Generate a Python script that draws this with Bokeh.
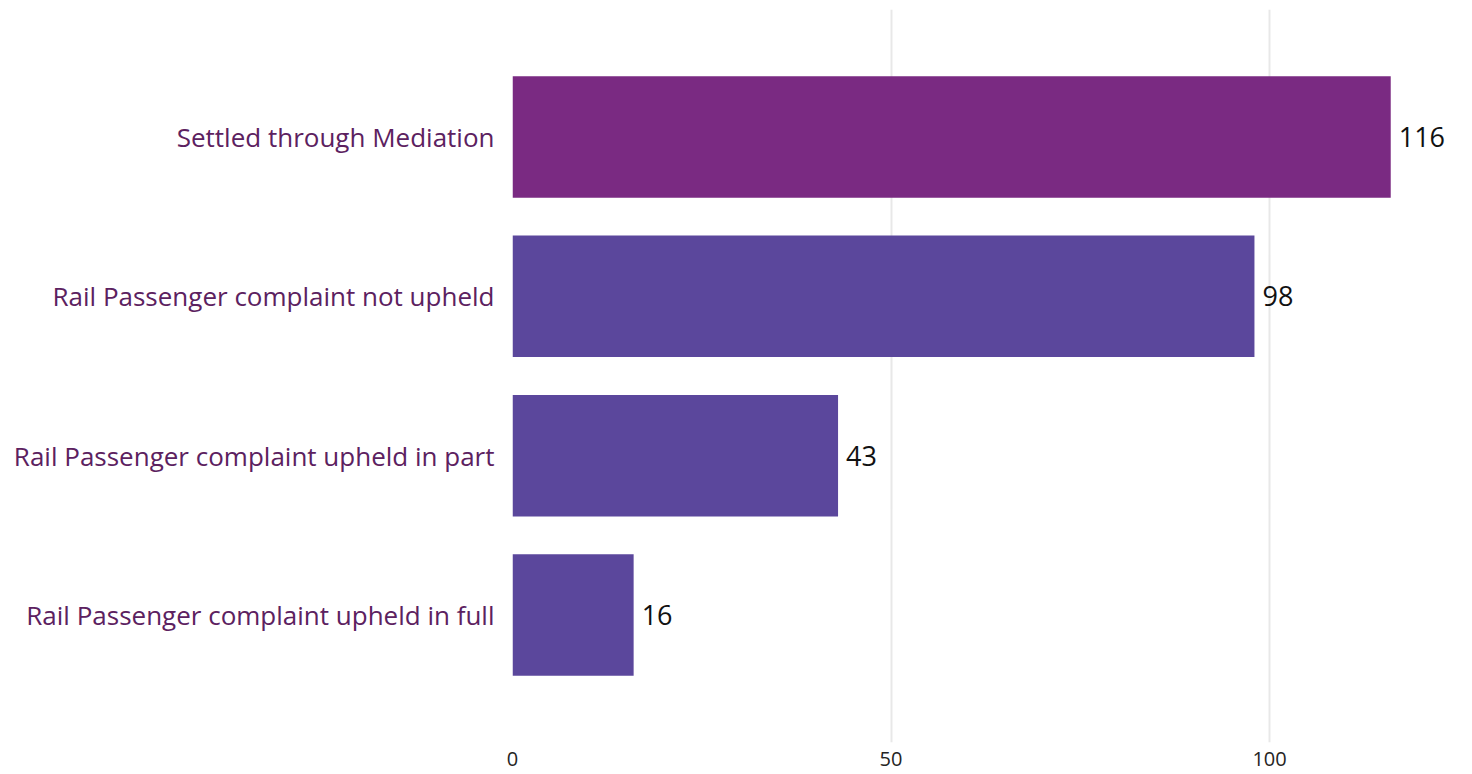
from bokeh.plotting import figure
from bokeh.models import ColumnDataSource, FactorRange, Range1d, FixedTicker
from bokeh.core.properties import value
from bokeh.embed import file_html
from bokeh.resources import INLINE

categories = [
    "Settled through Mediation",
    "Rail Passenger complaint not upheld",
    "Rail Passenger complaint upheld in part",
    "Rail Passenger complaint upheld in full",
]
values = [116, 98, 43, 16]
colors = ["#7a2a82", "#5b479c", "#5b479c", "#5b479c"]
x_ticks = [0, 50, 100]

src = ColumnDataSource(dict(cat=categories, val=values, color=colors,
                            lab=[str(v) for v in values]))

y_range = FactorRange(factors=list(reversed(categories)), range_padding=0.3,
                      range_padding_units="absolute")

p = figure(width=1472, height=772, y_range=y_range, x_range=Range1d(0, 126.8),
           output_backend="svg", toolbar_location=None,
           min_border_left=512, min_border_right=0, min_border_top=9,
           min_border_bottom=30)
p.outline_line_color = None
p.background_fill_color = "white"

p.hbar(y="cat", right="val", left=0, height=0.762, fill_color="color",
       line_color=None, source=src)

p.text(x="val", y="cat", text="lab", source=src, x_offset=8,
       text_baseline="middle", text_align="left",
       text_font=value("Open Sans"), text_font_size="27px",
       text_color="#111111")

p.xaxis.ticker = FixedTicker(ticks=x_ticks)
p.xaxis.axis_line_color = None
p.xaxis.major_tick_line_color = None
p.xaxis.minor_tick_line_color = None
p.xaxis.major_tick_out = 0
p.xaxis.major_label_standoff = 9
p.xaxis.major_label_text_font = "Open Sans"
p.xaxis.major_label_text_font_size = "20px"
p.xaxis.major_label_text_color = "#252423"

p.yaxis.axis_line_color = None
p.yaxis.major_tick_line_color = None
p.yaxis.minor_tick_line_color = None
p.yaxis.major_tick_out = 0
p.yaxis.major_label_standoff = 18
p.yaxis.major_label_text_font = "Open Sans"
p.yaxis.major_label_text_font_size = "26px"
p.yaxis.major_label_text_color = "#5c2160"

p.ygrid.grid_line_color = None
p.xgrid.grid_line_color = "#e8e8e8"
p.xgrid.grid_line_width = 2

open("out.html", "w").write(file_html(p, INLINE))
